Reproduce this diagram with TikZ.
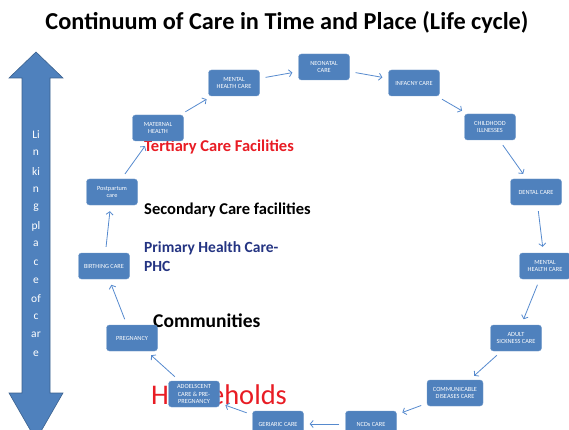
\documentclass[tikz,border=0pt]{standalone}
\usepackage{fontspec}
\setmainfont{Carlito}
\usetikzlibrary{arrows.meta}
\definecolor{boxblue}{RGB}{79,129,189}
\definecolor{arrblue}{RGB}{86,138,206}
\definecolor{phcblue}{RGB}{36,52,130}
\definecolor{carered}{RGB}{232,28,36}
\tikzset{
  care/.style={fill=boxblue, draw=boxblue!80!white, rounded corners=3pt, minimum width=51pt,
    minimum height=26pt, text=white, align=center, inner sep=1pt,
    font=\fontsize{6.3}{7.2}\selectfont},
  flow/.style={arrblue, line width=0.8pt, -{Straight Barb[length=3pt,width=7pt]},
    shorten >=6pt, shorten <=6pt},
  level/.style={anchor=base west, inner sep=0pt, font=\bfseries\fontsize{16.5}{19}\selectfont}
}
\begin{document}
\begin{tikzpicture}[x=1pt,y=-1pt]
  \useasboundingbox (0,0) rectangle (569,430);
  \clip (0,0) rectangle (569,430);
  \node[font=\bfseries\fontsize{24.3}{28}\selectfont] (title) at (287,22) {Continuum of Care in Time and Place (Life cycle)};
  % linking arrow
  \draw[fill=boxblue, draw=boxblue!75!black, line width=0.6pt] (36,52) -- (63,78) -- (50,78) -- (50,393)
    -- (63,393) -- (36,440) -- (9,393) -- (22,393) -- (22,78) -- (9,78) -- cycle;
  \foreach \s [count=\i] in {Li,n,ki,n,g,pl,a,c,e,of,c,ar,e}
    \node[text=white, font=\fontsize{11.5}{13}\selectfont] (link\i) at (36,{135+18.2*(\i-1)}) {\s};
  % levels of care
  \node[level, text=carered] (tertiary) at (144,152) {Tertiary Care Facilities};
  \node[level] (secondary) at (144,214) {Secondary Care facilities};
  \node[level, text=phcblue, font=\bfseries\fontsize{15.5}{19}\selectfont, align=left] (primary) at (144,271) {Primary Health Care-\\PHC};
  \node[level, font=\bfseries\fontsize{19.5}{22}\selectfont] (communities) at (153,327) {Communities};
  \node[level, text=carered, font=\fontsize{28.5}{30}\selectfont] (households) at (151,404) {Households};
  % life cycle
  \node[care] (neonatal) at (324,67) {NEONATAL\\CARE};
  \node[care] (infancy) at (414,83) {INFACNY CARE};
  \node[care] (childhood) at (490,127) {CHILDHOOD\\ILLNESSES};
  \node[care] (dental) at (536,192) {DENTAL CARE};
  \node[care] (mentalb) at (545,266) {MENTAL\\HEALTH CARE};
  \node[care] (adult) at (516,338) {ADULT\\SICKNESS CARE};
  \node[care, minimum width=56pt] (communicable) at (455,393) {COMMUNICABLE\\DISEASES CARE};
  \node[care] (ncds) at (371,424) {NCDs CARE};
  \node[care] (geriatric) at (278,424) {GERIARIC CARE};
  \node[care] (adolescent) at (194,394) {ADOELSCENT\\CARE \& PRE-\\PREGNANCY};
  \node[care] (pregnancy) at (132,338) {PREGNANCY};
  \node[care] (birthing) at (104,266) {BIRTHING CARE};
  \node[care] (postpartum) at (112,192) {Postpartum\\care};
  \node[care] (maternal) at (158,128) {MATERNAL\\HEALTH};
  \node[care] (mentala) at (234,83) {MENTAL\\HEALTH CARE};
  \draw[flow] (maternal) -- (mentala);
  \draw[flow] (mentala) -- (neonatal);
  \draw[flow] (neonatal) -- (infancy);
  \draw[flow] (infancy) -- (childhood);
  \draw[flow] (childhood) -- (dental);
  \draw[flow] (dental) -- (mentalb);
  \draw[flow] (mentalb) -- (adult);
  \draw[flow] (adult) -- (communicable);
  \draw[flow] (communicable) -- (ncds);
  \draw[flow] (ncds) -- (geriatric);
  \draw[flow] (geriatric) -- (adolescent);
  \draw[flow] (adolescent) -- (pregnancy);
  \draw[flow] (pregnancy) -- (birthing);
  \draw[flow] (birthing) -- (postpartum);
  \draw[flow] (postpartum) -- (maternal);
\end{tikzpicture}
\end{document}
